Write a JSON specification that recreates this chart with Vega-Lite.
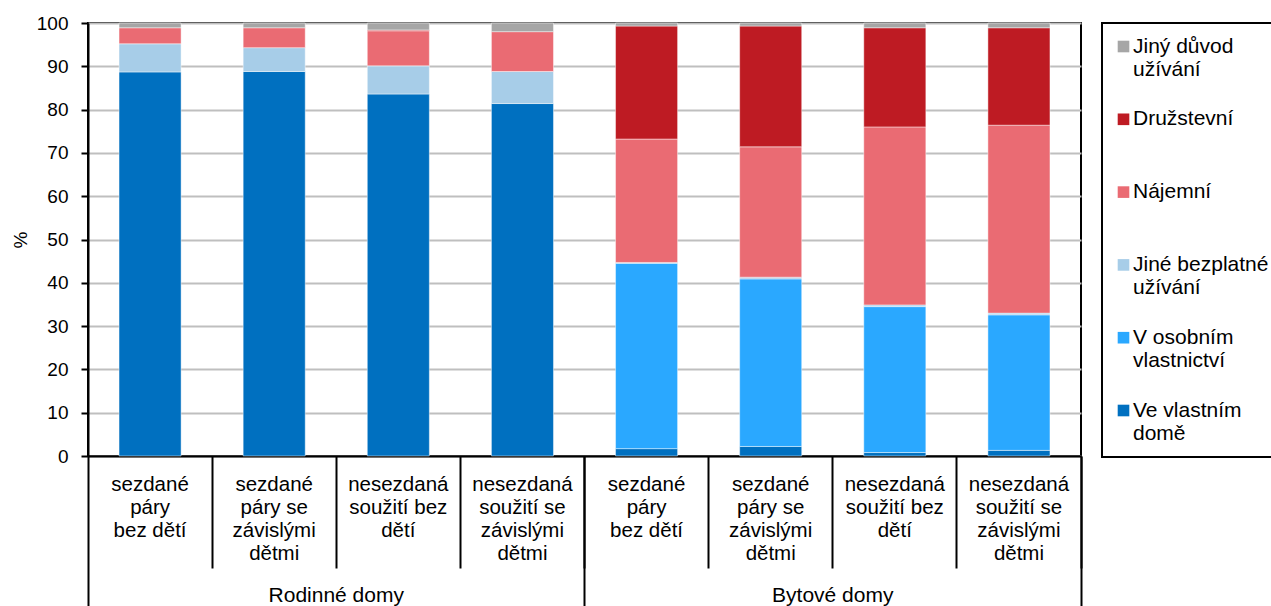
{
  "$schema": "https://vega.github.io/schema/vega-lite/v6.json",
  "width": 993,
  "height": 433,
  "autosize": {"type": "none"},
  "padding": {"left": 88, "top": 23, "right": 190, "bottom": 150},
  "background": "white",
  "config": {
    "font": "Liberation Sans",
    "view": {"stroke": "black", "strokeWidth": 2},
    "axis": {"labelColor": "black", "titleColor": "black", "domainColor": "black", "tickColor": "black"},
    "legend": {"strokeWidth": 2}
  },
  "data": {
    "values": [
      {"kategorie": "Rodinné domy|sezdané|páry|bez dětí", "typ": "Ve vlastním domě", "podil": 88.7},
      {"kategorie": "Rodinné domy|sezdané|páry|bez dětí", "typ": "Jiné bezplatné užívání", "podil": 6.5},
      {"kategorie": "Rodinné domy|sezdané|páry|bez dětí", "typ": "Nájemní", "podil": 3.7},
      {"kategorie": "Rodinné domy|sezdané|páry|bez dětí", "typ": "Jiný důvod užívání", "podil": 1.1},
      {"kategorie": "Rodinné domy|sezdané|páry se|závislými|dětmi", "typ": "Ve vlastním domě", "podil": 88.8},
      {"kategorie": "Rodinné domy|sezdané|páry se|závislými|dětmi", "typ": "Jiné bezplatné užívání", "podil": 5.5},
      {"kategorie": "Rodinné domy|sezdané|páry se|závislými|dětmi", "typ": "Nájemní", "podil": 4.6},
      {"kategorie": "Rodinné domy|sezdané|páry se|závislými|dětmi", "typ": "Jiný důvod užívání", "podil": 1.1},
      {"kategorie": "Rodinné domy|nesezdaná|soužití bez|dětí", "typ": "Ve vlastním domě", "podil": 83.6},
      {"kategorie": "Rodinné domy|nesezdaná|soužití bez|dětí", "typ": "Jiné bezplatné užívání", "podil": 6.5},
      {"kategorie": "Rodinné domy|nesezdaná|soužití bez|dětí", "typ": "Nájemní", "podil": 8.1},
      {"kategorie": "Rodinné domy|nesezdaná|soužití bez|dětí", "typ": "Družstevní", "podil": 0.2},
      {"kategorie": "Rodinné domy|nesezdaná|soužití bez|dětí", "typ": "Jiný důvod užívání", "podil": 1.6},
      {"kategorie": "Rodinné domy|nesezdaná|soužití se|závislými|dětmi", "typ": "Ve vlastním domě", "podil": 81.4},
      {"kategorie": "Rodinné domy|nesezdaná|soužití se|závislými|dětmi", "typ": "Jiné bezplatné užívání", "podil": 7.4},
      {"kategorie": "Rodinné domy|nesezdaná|soužití se|závislými|dětmi", "typ": "Nájemní", "podil": 9.2},
      {"kategorie": "Rodinné domy|nesezdaná|soužití se|závislými|dětmi", "typ": "Jiný důvod užívání", "podil": 2.0},
      {"kategorie": "Bytové domy|sezdané|páry|bez dětí", "typ": "Ve vlastním domě", "podil": 1.7},
      {"kategorie": "Bytové domy|sezdané|páry|bez dětí", "typ": "V osobním vlastnictví", "podil": 42.8},
      {"kategorie": "Bytové domy|sezdané|páry|bez dětí", "typ": "Jiné bezplatné užívání", "podil": 0.2},
      {"kategorie": "Bytové domy|sezdané|páry|bez dětí", "typ": "Nájemní", "podil": 28.5},
      {"kategorie": "Bytové domy|sezdané|páry|bez dětí", "typ": "Družstevní", "podil": 26.1},
      {"kategorie": "Bytové domy|sezdané|páry|bez dětí", "typ": "Jiný důvod užívání", "podil": 0.7},
      {"kategorie": "Bytové domy|sezdané|páry se|závislými|dětmi", "typ": "Ve vlastním domě", "podil": 2.2},
      {"kategorie": "Bytové domy|sezdané|páry se|závislými|dětmi", "typ": "V osobním vlastnictví", "podil": 38.7},
      {"kategorie": "Bytové domy|sezdané|páry se|závislými|dětmi", "typ": "Jiné bezplatné užívání", "podil": 0.4},
      {"kategorie": "Bytové domy|sezdané|páry se|závislými|dětmi", "typ": "Nájemní", "podil": 30.1},
      {"kategorie": "Bytové domy|sezdané|páry se|závislými|dětmi", "typ": "Družstevní", "podil": 27.9},
      {"kategorie": "Bytové domy|sezdané|páry se|závislými|dětmi", "typ": "Jiný důvod užívání", "podil": 0.7},
      {"kategorie": "Bytové domy|nesezdaná|soužití bez|dětí", "typ": "Ve vlastním domě", "podil": 0.8},
      {"kategorie": "Bytové domy|nesezdaná|soužití bez|dětí", "typ": "V osobním vlastnictví", "podil": 33.7},
      {"kategorie": "Bytové domy|nesezdaná|soužití bez|dětí", "typ": "Jiné bezplatné užívání", "podil": 0.4},
      {"kategorie": "Bytové domy|nesezdaná|soužití bez|dětí", "typ": "Nájemní", "podil": 41.1},
      {"kategorie": "Bytové domy|nesezdaná|soužití bez|dětí", "typ": "Družstevní", "podil": 22.9},
      {"kategorie": "Bytové domy|nesezdaná|soužití bez|dětí", "typ": "Jiný důvod užívání", "podil": 1.1},
      {"kategorie": "Bytové domy|nesezdaná|soužití se|závislými|dětmi", "typ": "Ve vlastním domě", "podil": 1.3},
      {"kategorie": "Bytové domy|nesezdaná|soužití se|závislými|dětmi", "typ": "V osobním vlastnictví", "podil": 31.3},
      {"kategorie": "Bytové domy|nesezdaná|soužití se|závislými|dětmi", "typ": "Jiné bezplatné užívání", "podil": 0.4},
      {"kategorie": "Bytové domy|nesezdaná|soužití se|závislými|dětmi", "typ": "Nájemní", "podil": 43.4},
      {"kategorie": "Bytové domy|nesezdaná|soužití se|závislými|dětmi", "typ": "Družstevní", "podil": 22.5},
      {"kategorie": "Bytové domy|nesezdaná|soužití se|závislými|dětmi", "typ": "Jiný důvod užívání", "podil": 1.1}
    ]
  },
  "transform": [
    {"calculate": "indexof(['Ve vlastním domě', 'V osobním vlastnictví', 'Jiné bezplatné užívání', 'Nájemní', 'Družstevní', 'Jiný důvod užívání'], datum.typ)", "as": "poradi"}
  ],
  "layer": [
    {
      "mark": {"type": "bar", "stroke": "white", "strokeWidth": 1, "strokeOpacity": 0.45},
      "encoding": {
        "x": {
          "field": "kategorie",
          "type": "nominal",
          "sort": null,
          "scale": {"paddingInner": 0.5, "paddingOuter": 0.25},
          "axis": {
            "orient": "bottom",
            "title": null,
            "grid": false,
            "bandPosition": 1.5,
            "tickSize": 112,
            "tickWidth": 2,
            "domainWidth": 2,
            "labelExpr": "slice(split(datum.label, '|'), 1)",
            "labelAngle": 0,
            "labelFontSize": 20.5,
            "labelLineHeight": 23,
            "labelBaseline": "top",
            "labelPadding": -93.5,
            "labelLimit": 300
          }
        },
        "y": {
          "field": "podil",
          "type": "quantitative",
          "stack": "zero",
          "scale": {"domain": [0, 100], "nice": false},
          "axis": {
            "title": "%",
            "values": [0, 10, 20, 30, 40, 50, 60, 70, 80, 90, 100],
            "grid": true,
            "gridColor": "#BFBFBF",
            "gridWidth": 2,
            "tickSize": 7,
            "tickWidth": 2,
            "domainWidth": 2,
            "labelFontSize": 19,
            "labelPadding": 13,
            "titleFontSize": 19,
            "titleFontWeight": "normal",
            "titlePadding": 6
          }
        },
        "order": {"field": "poradi", "type": "quantitative", "sort": "ascending"},
        "color": {
          "field": "typ",
          "type": "nominal",
          "sort": ["Jiný důvod užívání", "Družstevní", "Nájemní", "Jiné bezplatné užívání", "V osobním vlastnictví", "Ve vlastním domě"],
          "scale": {
            "domain": ["Jiný důvod užívání", "Družstevní", "Nájemní", "Jiné bezplatné užívání", "V osobním vlastnictví", "Ve vlastním domě"],
            "range": ["#A6A6A6", "#BE1B23", "#EA6B73", "#A7CDE8", "#2AA8FF", "#0070C0"]
          },
          "legend": {
            "title": null,
            "orient": "right",
            "offset": 21,
            "padding": 13,
            "strokeColor": "black",
            "fillColor": "white",
            "symbolType": "square",
            "symbolSize": 135,
            "symbolStrokeWidth": 0,
            "symbolOffset": -2,
            "labelFontSize": 21,
            "labelLineHeight": 22.5,
            "labelBaseline": "middle",
            "labelColor": "black",
            "labelLimit": 300,
            "labelOffset": -1,
            "rowPadding": 27.8,
            "gridAlign": "all",
            "labelExpr": "indexof(datum.label, ' ') < 0 ? datum.label : [substring(datum.label, 0, lastindexof(datum.label, ' ')), substring(datum.label, lastindexof(datum.label, ' ') + 1)]"
          }
        }
      }
    },
    {
      "mark": {"type": "rule", "opacity": 0},
      "encoding": {
        "x": {
          "field": "kategorie",
          "type": "nominal",
          "sort": null,
          "axis": {
            "orient": "bottom",
            "title": null,
            "values": ["Rodinné domy|nesezdaná|soužití se|závislými|dětmi", "Bytové domy|nesezdaná|soužití se|závislými|dětmi"],
            "labelExpr": "split(datum.label, '|')[0]",
            "labelOffset": -186.2,
            "bandPosition": 1.5,
            "ticks": true,
            "tickSize": 150,
            "tickWidth": 2,
            "domain": false,
            "grid": false,
            "labelPadding": -22,
            "labelFontSize": 21,
            "labelAngle": 0,
            "labelBaseline": "top",
            "labelLimit": 300
          }
        }
      }
    },
    {
      "mark": {"type": "rule", "opacity": 0},
      "encoding": {
        "x": {
          "field": "kategorie",
          "type": "nominal",
          "sort": null,
          "axis": {
            "orient": "bottom",
            "title": null,
            "values": ["Rodinné domy|sezdané|páry|bez dětí"],
            "labels": false,
            "bandPosition": -0.5,
            "ticks": true,
            "tickSize": 150,
            "tickWidth": 2,
            "domain": false,
            "grid": false
          }
        }
      }
    }
  ],
  "resolve": {"axis": {"x": "independent"}}
}
